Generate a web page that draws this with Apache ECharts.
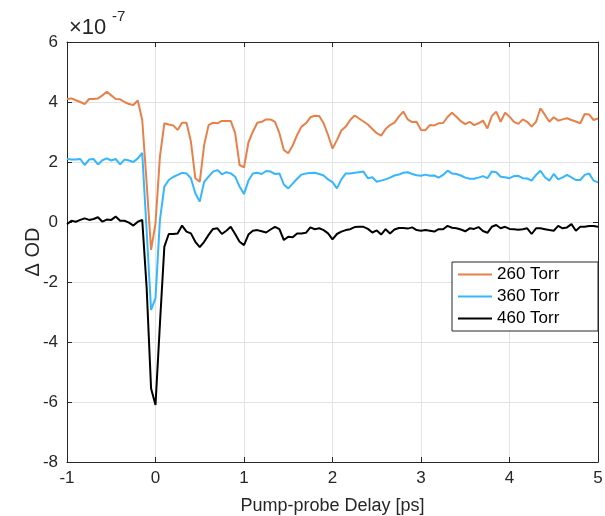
<!DOCTYPE html>
<html>
<head>
<meta charset="utf-8">
<script src="https://cdn.jsdelivr.net/npm/echarts@6/dist/echarts.min.js"></script>
<style>html,body{margin:0;padding:0;background:#fff;}#c{width:605px;height:516px;}</style>
</head>
<body>
<div id="c"></div>
<script>
// Pump-probe delay [ps]
const delay = [-1.00,-0.95,-0.90,-0.85,-0.80,-0.75,-0.70,-0.65,-0.60,-0.55,-0.50,-0.45,-0.40,-0.35,-0.30,-0.25,-0.20,-0.15,-0.10,-0.05,0.00,
0.05,0.10,0.15,0.20,0.25,0.30,0.35,0.40,0.45,0.50,0.55,0.60,0.65,0.70,0.75,0.80,0.85,0.90,0.95,1.00,
1.05,1.10,1.15,1.20,1.25,1.30,1.35,1.40,1.45,1.50,1.55,1.60,1.65,1.70,1.75,1.80,1.85,1.90,1.95,2.00,
2.05,2.10,2.15,2.20,2.25,2.30,2.35,2.40,2.45,2.50,2.55,2.60,2.65,2.70,2.75,2.80,2.85,2.90,2.95,3.00,
3.05,3.10,3.15,3.20,3.25,3.30,3.35,3.40,3.45,3.50,3.55,3.60,3.65,3.70,3.75,3.80,3.85,3.90,3.95,4.00,
4.05,4.10,4.15,4.20,4.25,4.30,4.35,4.40,4.45,4.50,4.55,4.60,4.65,4.70,4.75,4.80,4.85,4.90,4.95,5.00];

// Delta OD in units of 1e-7
const torr260 = [4.10,4.12,4.06,4.00,3.93,4.10,4.10,4.12,4.22,4.34,4.22,4.10,4.09,4.00,3.93,3.90,4.05,3.40,1.30,-0.93,-0.05,
2.18,3.29,3.25,3.22,3.07,3.31,3.31,2.68,1.46,1.34,2.57,3.23,3.31,3.29,3.37,3.37,3.37,2.96,1.90,1.82,
2.65,3.01,3.31,3.34,3.42,3.42,3.34,2.96,2.40,2.29,2.55,2.90,3.18,3.29,3.49,3.54,3.53,3.29,2.90,2.45,
2.73,3.05,3.18,3.40,3.55,3.45,3.35,3.25,3.10,2.96,2.88,3.10,3.23,3.31,3.51,3.68,3.42,3.33,3.34,3.07,
3.06,3.23,3.22,3.29,3.30,3.50,3.64,3.51,3.36,3.26,3.34,3.23,3.29,3.38,3.12,3.53,3.68,3.34,3.64,3.51,
3.34,3.27,3.42,3.34,3.18,3.34,3.79,3.57,3.34,3.49,3.38,3.42,3.46,3.40,3.35,3.29,3.60,3.58,3.40,3.45];

const torr360 = [2.10,2.08,2.08,2.10,1.90,2.08,2.10,1.92,2.06,2.12,2.05,2.10,1.92,2.08,2.05,2.00,2.12,2.30,-0.30,-2.93,-2.54,
0.07,1.18,1.40,1.50,1.57,1.64,1.62,1.46,0.96,0.68,1.34,1.51,1.68,1.73,1.59,1.66,1.62,1.51,1.18,0.93,
1.38,1.62,1.64,1.60,1.70,1.68,1.60,1.62,1.25,1.12,1.28,1.44,1.58,1.62,1.63,1.64,1.60,1.55,1.42,1.33,
1.12,1.42,1.62,1.62,1.64,1.66,1.68,1.46,1.49,1.34,1.38,1.42,1.48,1.55,1.58,1.64,1.66,1.60,1.56,1.54,
1.58,1.54,1.55,1.48,1.57,1.71,1.62,1.60,1.55,1.48,1.44,1.44,1.48,1.53,1.46,1.68,1.66,1.51,1.49,1.46,
1.53,1.54,1.46,1.45,1.38,1.57,1.71,1.49,1.38,1.60,1.42,1.49,1.57,1.49,1.40,1.40,1.57,1.62,1.38,1.32];

const torr460 = [-0.07,0.04,0.01,0.07,0.12,0.07,0.10,0.16,0.01,0.08,0.07,0.18,0.04,0.04,-0.02,-0.12,0.01,0.07,-2.20,-5.55,-6.10,
-3.40,-0.82,-0.40,-0.40,-0.38,-0.12,-0.32,-0.38,-0.66,-0.84,-0.66,-0.43,-0.23,-0.21,-0.40,-0.29,-0.16,-0.40,-0.66,-0.77,
-0.42,-0.29,-0.27,-0.31,-0.35,-0.25,-0.16,-0.24,-0.60,-0.49,-0.51,-0.38,-0.38,-0.36,-0.18,-0.24,-0.21,-0.27,-0.38,-0.58,
-0.40,-0.32,-0.27,-0.24,-0.17,-0.16,-0.16,-0.23,-0.35,-0.28,-0.42,-0.24,-0.38,-0.25,-0.20,-0.20,-0.22,-0.18,-0.27,-0.29,
-0.27,-0.29,-0.32,-0.24,-0.24,-0.13,-0.19,-0.21,-0.25,-0.31,-0.21,-0.23,-0.17,-0.30,-0.36,-0.16,-0.10,-0.21,-0.16,-0.23,
-0.24,-0.26,-0.24,-0.21,-0.40,-0.21,-0.21,-0.24,-0.27,-0.29,-0.13,-0.21,-0.18,-0.07,-0.29,-0.16,-0.16,-0.13,-0.13,-0.16];

const seriesNames = ['260 Torr','360 Torr','460 Torr'];
const seriesColors = ['#E8804A','#35B6FF','#000000'];
const seriesValues = [torr260, torr360, torr460];

const xTicks = {min:-1, max:5, interval:1};
const yTicks = {min:-8, max:6, interval:2};

const chart = echarts.init(document.getElementById('c'), null, {renderer:'canvas'});
const FONT = 'Liberation Sans, Arial, Helvetica, sans-serif';
const AX = '#262626';

const baseAxis = {
  axisLine:{show:true, onZero:false, lineStyle:{color:AX, width:1}},
  axisTick:{show:true, inside:true, length:5, lineStyle:{color:AX, width:1}},
};

chart.setOption({
  animation:false,
  backgroundColor:'#fff',
  grid:{left:67, right:7, top:42, bottom:54, containLabel:false, outerBoundsMode:'none'},
  legend:{
    orient:'vertical', left:452, top:262,
    data:seriesNames,
    icon:'rect',
    itemWidth:34, itemHeight:2, itemGap:3,
    padding:[3,8,3,6],
    borderColor:AX, borderWidth:1, backgroundColor:'#fff',
    textStyle:{fontFamily:FONT, fontSize:17, color:'#000', width:93, lineHeight:19}
  },
  xAxis:[
    Object.assign({}, baseAxis, {
      type:'value', position:'bottom', min:xTicks.min, max:xTicks.max, interval:xTicks.interval,
      axisLabel:{color:AX, fontSize:17, fontFamily:FONT, margin:8},
      splitLine:{show:true, lineStyle:{color:'#e3e3e3', width:1}},
      name:'Pump-probe Delay [ps]', nameLocation:'middle', nameGap:35, nameMoveOverlap:false,
      nameTextStyle:{color:AX, fontSize:18, fontFamily:FONT}
    }),
    Object.assign({}, baseAxis, {
      type:'value', position:'top', min:xTicks.min, max:xTicks.max, interval:xTicks.interval,
      axisLabel:{show:false}, splitLine:{show:false}
    })
  ],
  yAxis:[
    Object.assign({}, baseAxis, {
      type:'value', position:'left', min:yTicks.min, max:yTicks.max, interval:yTicks.interval,
      axisLabel:{color:AX, fontSize:17, fontFamily:FONT, margin:9},
      splitLine:{show:true, lineStyle:{color:'#e3e3e3', width:1}},
      name:'\u0394 OD', nameLocation:'middle', nameGap:24, nameRotate:90, nameMoveOverlap:false,
      nameTextStyle:{color:AX, fontSize:20, fontFamily:FONT}
    }),
    Object.assign({}, baseAxis, {
      type:'value', position:'right', min:yTicks.min, max:yTicks.max, interval:yTicks.interval,
      axisLabel:{show:false}, splitLine:{show:false}
    })
  ],
  graphic:[
    {type:'text', left:69, top:17, style:{text:'\u00d710', fontSize:22, fontFamily:FONT, fill:AX}},
    {type:'text', left:112, top:9, style:{text:'-7', fontSize:15, fontFamily:FONT, fill:AX}}
  ],
  series: seriesNames.map((n,i)=>({
    name:n, type:'line', xAxisIndex:0, yAxisIndex:0,
    data: delay.map((t,k)=>[t, seriesValues[i][k]]),
    symbol:'none', showSymbol:false,
    lineStyle:{color:seriesColors[i], width:2},
    itemStyle:{color:seriesColors[i]},
    z: 10-i
  }))
});
</script>
</body>
</html>
